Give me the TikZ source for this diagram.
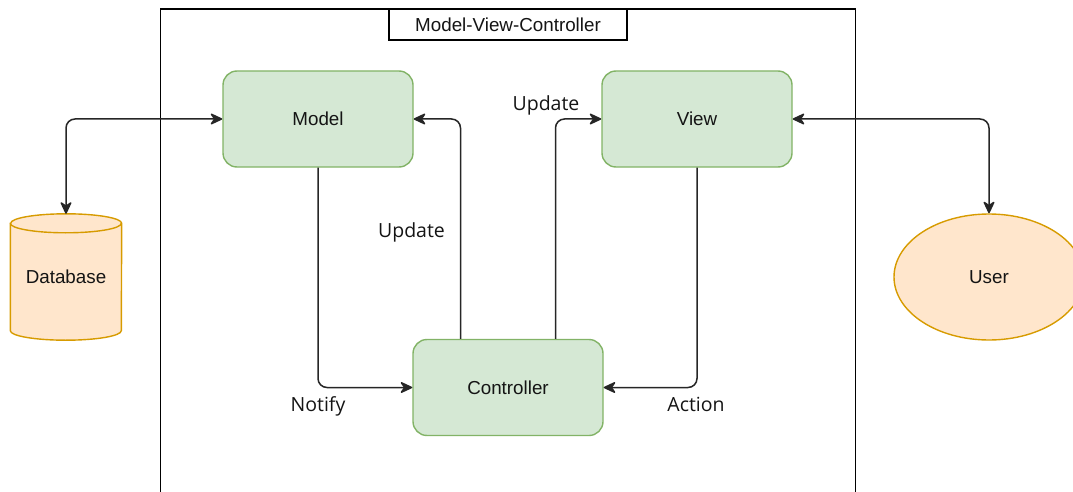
\documentclass[tikz,border=0pt]{standalone}
\usepackage{fontspec}
\setmainfont{Liberation Sans}
\newfontfamily\lblfont{Open Sans}
\usetikzlibrary{arrows.meta,shapes.geometric}

\definecolor{greenfill}{HTML}{D5E8D4}
\definecolor{greenline}{HTML}{82B366}
\definecolor{orangefill}{HTML}{FFE6CC}
\definecolor{orangeline}{HTML}{D79B00}
\definecolor{txt}{HTML}{141414}

\tikzset{
  compbox/.style={draw=greenline, fill=greenfill, line width=1.4pt,
    rounded corners=14pt, minimum width=190pt, minimum height=96pt,
    inner sep=0pt, font=\fontsize{18.8}{20}\selectfont, text=txt},
  actor/.style={ellipse, draw=orangeline, fill=orangefill, line width=1.4pt,
    minimum width=190pt, minimum height=126pt, inner sep=0pt,
    font=\fontsize{18.8}{20}\selectfont, text=txt},
  flow/.style={line width=1.5pt, draw=black!85, rounded corners=9pt,
    arrows={-Stealth[length=14pt,width=13pt,inset=4.5pt,round]}},
  biflow/.style={line width=1.5pt, draw=black!85, rounded corners=9pt,
    arrows={Stealth[length=14pt,width=13pt,inset=4.5pt,round]-Stealth[length=14pt,width=13pt,inset=4.5pt,round]}},
  edgelabel/.style={font=\lblfont\fontsize{19.5}{21}\selectfont, text=txt, inner sep=0pt},
  frame/.style={line width=1.4pt, draw=black},
}

\begin{document}
\begin{tikzpicture}[x=1pt, y=-1pt]
  \useasboundingbox (0,0) rectangle (1073,492);

  % outer frame, open at the bottom
  \draw[frame] (160.5,492) -- (160.5,9) -- (855.5,9) -- (855.5,492);

  % title tab
  \node[frame, fill=white, minimum width=238pt, minimum height=31pt, inner sep=0pt,
        font=\fontsize{18.8}{20}\selectfont, text=txt] (title) at (508,24.5) {Model-View-Controller};

  % MVC components
  \node[compbox] (model) at (318,119) {Model};
  \node[compbox] (view)  at (697,119) {View};
  \node[compbox] (ctrl)  at (508,387.5) {Controller};

  % database cylinder: body with the back half of the lid, then the front rim
  \node[minimum width=111pt, minimum height=126pt, inner sep=0pt] (db) at (66,277) {};
  \filldraw[draw=orangeline, fill=orangefill, line width=1.4pt]
    ([yshift=-9.5pt]db.north west) -- ([yshift=9.5pt]db.south west)
    arc[start angle=180, end angle=360, x radius=55.5pt, y radius=9.5pt]
    -- ([yshift=-9.5pt]db.north east)
    arc[start angle=0, end angle=180, x radius=55.5pt, y radius=9.5pt] -- cycle;
  \draw[orangeline, line width=1.4pt]
    ([yshift=-9.5pt]db.north west)
    arc[start angle=180, end angle=360, x radius=55.5pt, y radius=9.5pt];
  \node[font=\fontsize{18.8}{20}\selectfont, text=txt] (dbtext) at (db.center) {Database};

  % user
  \node[actor] (user) at (989,277) {User};

  % connectors
  \draw[biflow] (model.west) -| (db.north);
  \draw[biflow] (view.east) -| (user.north);
  \draw[flow] (model.south) |- (ctrl.west);
  \draw[flow] ([xshift=-47.5pt]ctrl.north) |- (model.east);
  \draw[flow] ([xshift=47.5pt]ctrl.north) |- (view.west);
  \draw[flow] (view.south) |- (ctrl.east);

  % connector labels
  \node[edgelabel] (lnotify) at (318,406.5) {Notify};
  \node[edgelabel] (lupdl) at (411.5,232.5) {Update};
  \node[edgelabel] (lupdr) at (546,105.5) {Update};
  \node[edgelabel] (laction) at (696,404) {Action};
\end{tikzpicture}
\end{document}
